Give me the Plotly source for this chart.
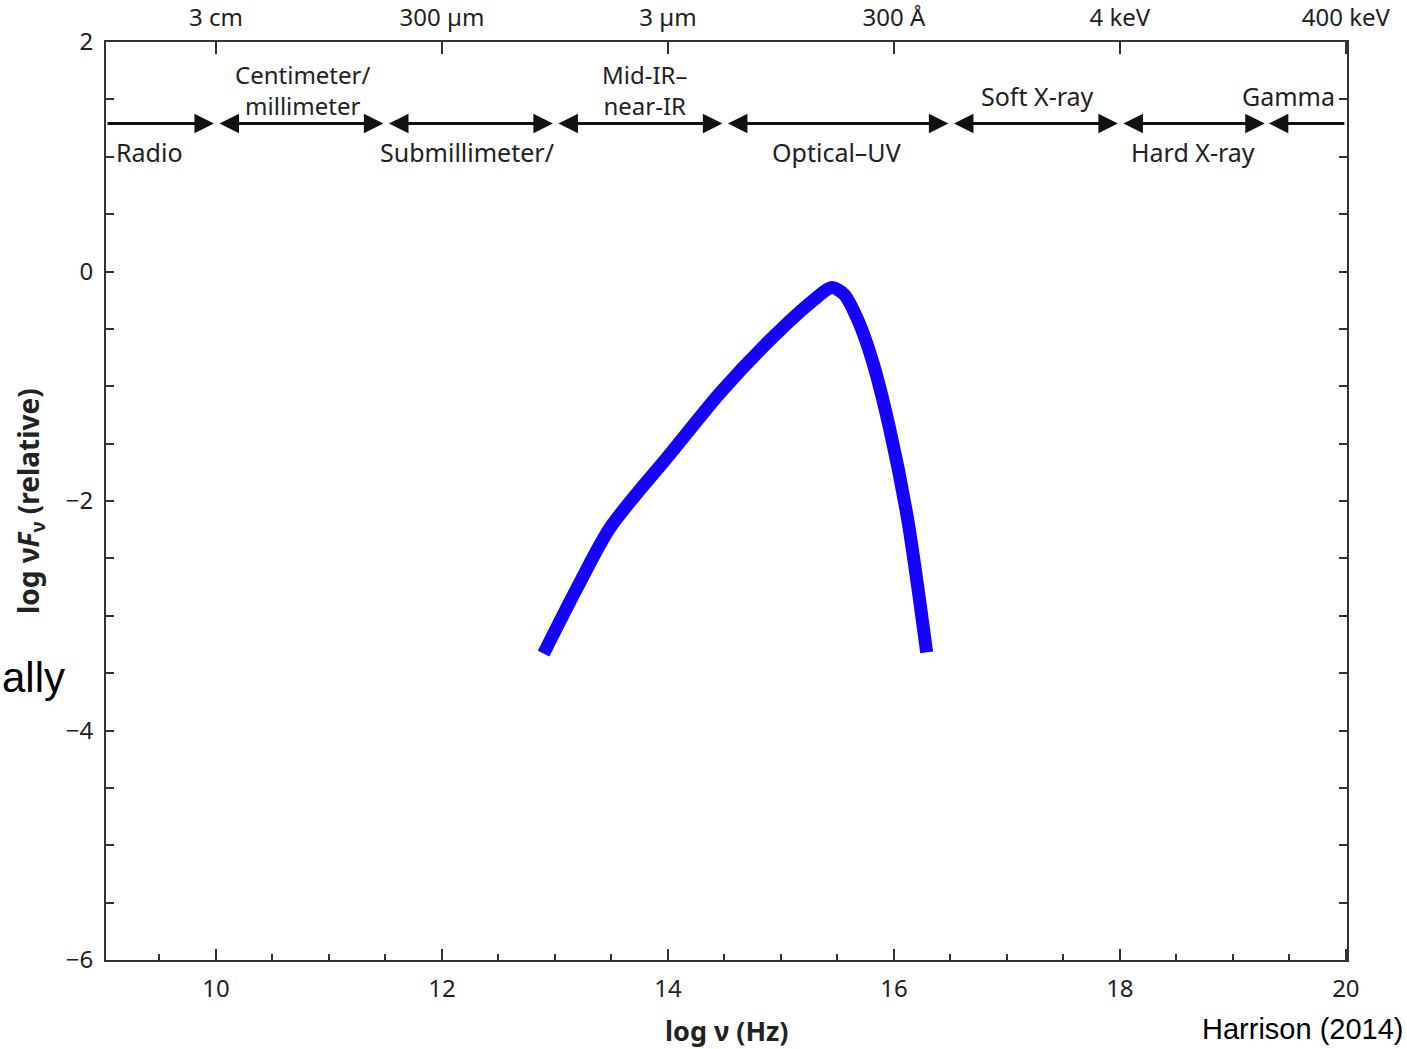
import plotly.graph_objects as go

# SED curve
log_nu = [12.90, 13.20, 13.49, 14.02, 14.46, 14.90, 15.30, 15.45, 15.56, 15.68, 15.81, 15.96, 16.12, 16.29]
log_nuFnu = [-3.33, -2.75, -2.23, -1.59, -1.06, -0.60, -0.24, -0.14, -0.20, -0.42, -0.78, -1.36, -2.15, -3.32]

# Axis ticks
x_ticks = [10, 12, 14, 16, 18, 20]
top_tick_labels = ["3 cm", "300 µm", "3 µm", "300 Å", "4 keV", "400 keV"]
y_ticks = [-6, -5.5, -5, -4.5, -4, -3.5, -3, -2.5, -2, -1.5, -1, -0.5, 0, 0.5, 1, 1.5, 2]
y_labels = ["−6", "", "", "", "−4", "", "", "", "−2", "", "", "", "0", "", "", "", "2"]

# Spectral band boundaries (log Hz) and labels
band_bounds = [9.027, 10, 11.5, 13, 14.5, 16.5, 18, 19.3, 20.0]
band_names = ["Radio", "Centimeter/<br>millimeter", "Submillimeter/", "Mid-IR–<br>near-IR",
              "Optical–UV", "Soft X-ray", "Hard X-ray", "Gamma"]
band_label_x = [9.11, 10.77, 12.23, 13.80, 15.49, 17.27, 18.65, 19.49]
band_label_y = [1.04, 1.58, 1.04, 1.58, 1.04, 1.53, 1.04, 1.53]
arrow_y = 1.29

XR = [9.027, 20.01]
YR = [-6, 2]
FONT = "Noto Sans"
AX = "#333333"

fig = go.Figure()
fig.add_trace(go.Scatter(x=log_nu, y=log_nuFnu, mode="lines",
                         line=dict(color="#1500ff", width=13, shape="spline", smoothing=0.8),
                         hoverinfo="skip", showlegend=False))
fig.add_trace(go.Scatter(x=[XR[0]], y=[YR[0]], xaxis="x2", yaxis="y2", mode="markers",
                         marker=dict(opacity=0), showlegend=False, hoverinfo="skip"))

annotations = []
gap = 0.018
AS = 1.3
AW = 3
n = len(band_names)
for i in range(n):
    x0, x1 = band_bounds[i], band_bounds[i + 1]
    common = dict(y=arrow_y, ay=arrow_y, axref="x", ayref="y", xref="x", yref="y", text="",
                  showarrow=True, arrowhead=2, arrowsize=AS, arrowwidth=AW, arrowcolor="#111")
    if i == 0:
        annotations.append(dict(x=x1 - gap, ax=x0, **common))
    elif i == n - 1:
        annotations.append(dict(x=x0 + gap, ax=x1, **common))
    else:
        annotations.append(dict(x=x1 - gap, ax=x0 + gap, startarrowhead=2, arrowside="end+start",
                                startarrowsize=AS, **common))
    two_line = "<br>" in band_names[i]
    annotations.append(dict(x=band_label_x[i], y=band_label_y[i], xref="x", yref="y",
                            text=band_names[i], showarrow=False, borderpad=0,
                            xanchor="left" if i == 0 else "center", yanchor="middle",
                            font=dict(family=FONT, size=24 if two_line else 25, color="#222"),
                            align="center"))

annotations.append(dict(x=0.5, y=-0.077, xref="paper", yref="paper",
                        text="<b>log ν (Hz)</b>", showarrow=False, xanchor="center", yanchor="middle",
                        font=dict(family=FONT, size=27, color="#222")))
annotations.append(dict(x=-0.0612, y=0.5, xref="paper", yref="paper", textangle=-90,
                        text="<b>log ν<i>F</i><sub>ν</sub> (relative)</b>", showarrow=False,
                        xanchor="center", yanchor="middle",
                        font=dict(family=FONT, size=28, color="#222")))
annotations.append(dict(x=-0.0854, y=0.308, xref="paper", yref="paper",
                        text="ally", showarrow=False, xanchor="left", yanchor="middle",
                        font=dict(family="Liberation Sans", size=42, color="#000")))
annotations.append(dict(x=1.0467, y=-0.0755, xref="paper", yref="paper",
                        text="Harrison (2014)", showarrow=False, xanchor="right", yanchor="middle",
                        font=dict(family="Liberation Sans", size=29, color="#000")))

tickfont = dict(family=FONT, size=24, color="#222")
fig.update_layout(
    width=1407, height=1049,
    margin=dict(l=106, r=60, t=42, b=89, autoexpand=False),
    paper_bgcolor="white", plot_bgcolor="white",
    showlegend=False,
    annotations=annotations,
    xaxis=dict(range=XR, tickvals=x_ticks, ticktext=[str(v) for v in x_ticks],
               ticks="inside", ticklen=11, tickwidth=2, tickcolor=AX,
               minor=dict(dtick=0.5, tick0=0, ticks="inside", ticklen=6, tickwidth=2, tickcolor=AX),
               showline=True, linecolor=AX, linewidth=2, showgrid=False, zeroline=False,
               tickfont=tickfont, ticklabelstandoff=6, automargin=False),
    xaxis2=dict(range=XR, overlaying="x", side="top", anchor="y2",
                tickvals=x_ticks, ticktext=top_tick_labels,
                ticks="inside", ticklen=12, tickwidth=2, tickcolor=AX,
                showline=True, linecolor=AX, linewidth=2, showgrid=False, zeroline=False,
                tickfont=tickfont, ticklabelstandoff=4, automargin=False),
    yaxis=dict(range=YR, tickvals=y_ticks, ticktext=y_labels,
               ticks="inside", ticklen=8, tickwidth=2, tickcolor=AX,
               showline=True, linecolor=AX, linewidth=2, showgrid=False, zeroline=False,
               tickfont=tickfont, ticklabelstandoff=6, automargin=False),
    yaxis2=dict(range=YR, overlaying="y", side="right", anchor="x2",
                tickvals=y_ticks, showticklabels=False,
                ticks="inside", ticklen=8, tickwidth=2, tickcolor=AX,
                showline=True, linecolor=AX, linewidth=2, showgrid=False, zeroline=False,
                automargin=False),
)

fig.write_html("out.html")
